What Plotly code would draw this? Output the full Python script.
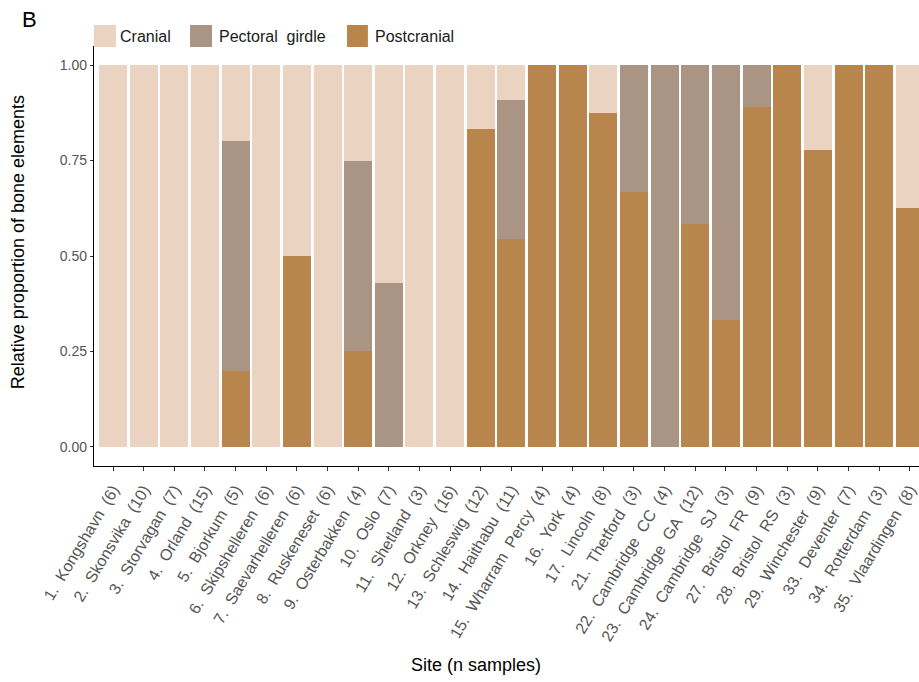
import plotly.graph_objects as go

# Sites with sample counts, in plotting order
sites = [
    "1.  Kongshavn  (6)", "2.  Skonsvika  (10)", "3.  Storvagan  (7)", "4.  Orland  (15)",
    "5.  Bjorkum  (5)", "6.  Skipshelleren  (6)", "7.  Saevarhelleren  (6)",
    "8.  Ruskeneset  (6)", "9.  Osterbakken  (4)", "10.  Oslo  (7)", "11.  Shetland  (3)",
    "12.  Orkney  (16)", "13.  Schleswig  (12)", "14.  Haithabu  (11)",
    "15.  Wharram  Percy  (4)", "16.  York  (4)", "17.  Lincoln  (8)", "21.  Thetford  (3)",
    "22.  Cambridge  CC  (4)", "23.  Cambridge  GA  (12)", "24.  Cambridge  SJ  (3)",
    "27.  Bristol  FR  (9)", "28.  Bristol  RS  (3)", "29.  Winchester  (9)",
    "33.  Deventer  (7)", "34.  Rotterdam  (3)", "35.  Vlaardingen  (8)",
]
# keep doubled spaces visible in SVG text
sites = [s.replace("  ", "\u00a0 ") for s in sites]

# Relative proportion of bone elements per site
postcranial = [0, 0, 0, 0, 0.2, 0, 0.5, 0, 0.25, 0, 0, 0, 0.833, 0.545,
               1, 1, 0.875, 0.667, 0, 0.583, 0.333, 0.889, 1, 0.778, 1, 1, 0.625]
pectoral = [0, 0, 0, 0, 0.6, 0, 0, 0, 0.5, 0.429, 0, 0, 0, 0.364,
            0, 0, 0, 0.333, 1, 0.417, 0.667, 0.111, 0, 0, 0, 0, 0]
cranial = [1, 1, 1, 1, 0.2, 1, 0.5, 1, 0.25, 0.571, 1, 1, 0.167, 0.091,
           0, 0, 0.125, 0, 0, 0, 0, 0, 0, 0.222, 0, 0, 0.375]

categories = ["Cranial", "Pectoral  girdle", "Postcranial"]
colors = {"Cranial": "#EBD3C1", "Pectoral  girdle": "#AA9585", "Postcranial": "#B8864C"}

FONT = "Liberation Sans, Arial, Helvetica, sans-serif"

fig = go.Figure()
for name, vals in [("Postcranial", postcranial), ("Pectoral  girdle", pectoral), ("Cranial", cranial)]:
    fig.add_trace(go.Bar(
        x=sites, y=vals, name=name,
        marker=dict(color=colors[name], line=dict(width=0)),
        showlegend=False,
    ))

# Legend drawn as swatches + labels across the top
legend_pos = [(0.0, 0.0267, 0.0291), (0.1164, 0.1430, 0.1490), (0.3067, 0.3320, 0.3380)]
for name, (x0, x1, xt) in zip(categories, legend_pos):
    fig.add_shape(type="rect", xref="paper", yref="paper", x0=x0, x1=x1, y0=0.9976, y1=1.050,
                  fillcolor=colors[name], line=dict(width=0))
    fig.add_annotation(xref="paper", yref="paper", x=xt, y=1.0238, text=name.replace("  ", "\u00a0 "),
                       showarrow=False, xanchor="left", yanchor="middle",
                       font=dict(family=FONT, size=16, color="#1a1a1a"))

fig.add_annotation(xref="paper", yref="paper", x=-0.0776, y=1.062, text="B", showarrow=False,
                   xanchor="center", yanchor="middle", font=dict(family=FONT, size=22, color="black"))
fig.add_annotation(xref="paper", yref="paper", x=0.463, y=-0.474, text="Site (n samples)",
                   showarrow=False, xanchor="center", yanchor="middle",
                   font=dict(family=FONT, size=18, color="black"))
fig.add_annotation(xref="paper", yref="paper", x=-0.0921, y=0.533,
                   text="Relative proportion of bone elements", textangle=-90,
                   showarrow=False, xanchor="center", yanchor="middle",
                   font=dict(family=FONT, size=18, color="black"))

fig.update_layout(
    width=919, height=682,
    margin=dict(l=94, r=0, t=46, b=216, autoexpand=False),
    barmode="stack", bargap=0.087,
    plot_bgcolor="white", paper_bgcolor="white",
    font=dict(family=FONT),
)
fig.update_xaxes(
    type="category", range=[-0.62, 26.3],
    showline=True, linecolor="black", linewidth=1.3,
    ticks="outside", ticklen=4, tickcolor="#333333", tickwidth=1,
    tickangle=-59, ticklabelstandoff=3,
    tickfont=dict(family=FONT, size=16, color="#555555"),
    showgrid=False, zeroline=False,
)
fig.update_yaxes(
    range=[-0.05, 1.05], tickvals=[0, 0.25, 0.5, 0.75, 1.0],
    ticktext=["0.00", "0.25", "0.50", "0.75", "1.00"],
    showline=True, linecolor="black", linewidth=1.3,
    ticks="outside", ticklen=3, tickcolor="#333333", tickwidth=1,
    tickfont=dict(family=FONT, size=14, color="#555555"),
    showgrid=False, zeroline=False,
)

fig.write_html("out.html")
